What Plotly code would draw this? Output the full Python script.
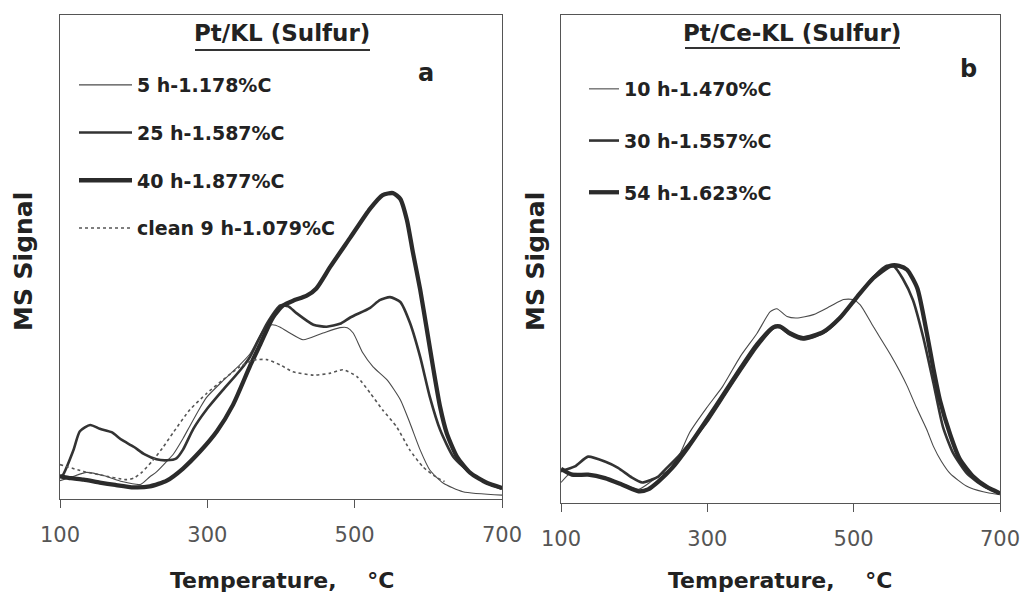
import plotly.graph_objects as go

# ---------------- data: panel a (Pt/KL, Sulfur) ----------------
a_names = ["5 h-1.178%C", "25 h-1.587%C", "40 h-1.877%C", "clean 9 h-1.079%C"]

a5_T = [100, 115, 136, 160, 184, 209, 222, 231, 245, 254, 267, 276, 290, 299, 321, 344, 358, 376, 388, 399,
        412, 430, 457, 480, 490, 498, 511, 525, 544, 562, 575, 589, 602, 620, 647, 700]
a5_v = [3.8, 4.5, 5.5, 4.8, 3.6, 3.0, 4.6, 5.6, 7.8, 9.3, 12.5, 15.0, 18.8, 21.0, 24.4, 27.7, 30.0, 34.9, 36.0, 35.5,
        34.3, 32.9, 34.3, 35.4, 35.4, 34.3, 30.2, 27.3, 24.6, 20.5, 15.7, 10.1, 6.0, 3.3, 1.5, 0.8]

a25_T = [100, 104, 118, 127, 141, 154, 170, 184, 200, 215, 231, 245, 258, 267, 281, 299, 321, 344, 358, 381,
         399, 410, 421, 444, 462, 480, 494, 521, 534, 548, 562, 575, 589, 602, 616, 634, 657, 680, 700]
a25_v = [4.7, 5.0, 10.0, 14.0, 15.3, 14.5, 13.8, 12.2, 10.8, 9.2, 8.2, 8.0, 8.4, 10.2, 14.5, 18.5, 22.5, 26.5, 29.4, 36.3,
         40.0, 39.8, 38.4, 36.0, 35.6, 36.2, 37.5, 39.5, 41.1, 41.7, 40.7, 36.4, 29.3, 21.1, 14.3, 8.7, 5.4, 3.3, 2.1]

a40_T = [100, 115, 132, 154, 175, 200, 222, 245, 267, 290, 313, 335, 358, 372, 389, 403, 417, 435, 448, 467,
         494, 521, 538, 552, 562, 571, 579, 589, 598, 607, 616, 625, 639, 657, 680, 700]
a40_v = [4.7, 4.3, 4.0, 3.4, 2.9, 2.4, 2.6, 3.8, 6.3, 9.8, 14.0, 19.5, 27.5, 32.0, 37.5, 40.0, 41.0, 42.0, 43.5, 48.0,
         54.0, 60.0, 62.8, 63.2, 62.0, 57.6, 51.0, 43.2, 35.0, 26.7, 19.0, 13.6, 8.7, 5.4, 3.3, 2.3]

aclean_T = [100, 132, 154, 190, 200, 211, 225, 239, 254, 276, 299, 321, 344, 362, 381, 399, 416, 444, 467, 484,
            503, 521, 538, 557, 575, 593, 611, 622]
aclean_v = [7.1, 5.7, 5.0, 4.0, 4.3, 5.5, 7.8, 10.5, 13.8, 18.4, 21.8, 24.6, 27.3, 28.7, 28.8, 27.7, 26.3, 25.6, 26.0, 26.7,
            25.3, 21.9, 18.4, 14.9, 10.1, 6.6, 4.5, 3.6]

# ---------------- data: panel b (Pt/Ce-KL, Sulfur) ----------------
b_names = ["10 h-1.470%C", "30 h-1.557%C", "54 h-1.623%C"]

b10_T = [100, 112, 125, 140, 160, 183, 206, 224, 233, 245, 260, 276, 299, 321, 345, 368, 386, 395, 409, 422,
         445, 468, 486, 499, 509, 527, 550, 563, 573, 586, 600, 609, 620, 632, 654, 677, 700]
b10_v = [4.2, 6.0, 6.0, 5.8, 5.3, 4.0, 2.8, 4.5, 5.5, 6.5, 9.3, 14.5, 19.5, 23.9, 30.0, 34.8, 39.2, 39.8, 38.2, 37.9,
         38.6, 40.3, 41.7, 41.7, 40.6, 36.1, 30.5, 27.0, 24.0, 19.5, 15.0, 11.6, 8.5, 6.0, 3.5, 2.3, 1.7]

b30_T = [100, 119, 137, 160, 178, 197, 211, 224, 233, 242, 260, 283, 299, 321, 345, 368, 390, 399, 413, 431,
         458, 481, 505, 527, 545, 555, 567, 581, 595, 609, 622, 636, 655, 677, 700]
b30_v = [6.5, 7.5, 9.5, 8.5, 7.2, 5.2, 4.2, 4.8, 5.4, 6.8, 9.5, 13.5, 16.5, 21.5, 27.0, 32.0, 35.8, 36.0, 34.5, 33.5,
         34.8, 37.8, 42.3, 46.3, 48.6, 48.5, 46.0, 41.6, 34.0, 24.6, 15.6, 10.2, 6.0, 3.5, 2.0]

b54_T = [100, 115, 137, 160, 183, 206, 219, 233, 252, 274, 299, 321, 345, 368, 390, 399, 413, 431, 458, 481,
         505, 527, 550, 562, 573, 587, 600, 609, 618, 632, 645, 663, 682, 700]
b54_v = [7.0, 5.8, 5.8, 5.1, 3.8, 2.4, 2.8, 4.4, 7.2, 11.5, 17.0, 22.0, 27.5, 32.5, 36.0, 36.2, 34.8, 33.8, 35.0, 37.9,
         42.3, 46.1, 48.6, 48.6, 47.8, 44.0, 34.8, 27.5, 21.0, 14.0, 9.0, 5.5, 3.3, 2.0]

x_ticks = [100, 300, 500, 700]

FONT = "DejaVu Sans"
W, H = 1024, 595

fig = go.Figure()

a_series = [
    (a5_T, a5_v, a_names[0], dict(color="#4a4a4a", width=1.1, dash="solid")),
    (a25_T, a25_v, a_names[1], dict(color="#333333", width=2.6, dash="solid")),
    (a40_T, a40_v, a_names[2], dict(color="#2b2b2b", width=4.3, dash="solid")),
    (aclean_T, aclean_v, a_names[3], dict(color="#555555", width=1.6, dash="dot")),
]
for T, v, name, ln in a_series:
    fig.add_trace(go.Scatter(
        x=T, y=v, mode="lines", name="<b>" + name + "</b>",
        line=dict(color=ln["color"], width=ln["width"], dash=ln["dash"], shape="spline", smoothing=0.6),
        xaxis="x", yaxis="y", legend="legend", legendgroup="a_" + name, hoverinfo="skip"))

b_series = [
    (b10_T, b10_v, b_names[0], dict(color="#4a4a4a", width=1.1)),
    (b30_T, b30_v, b_names[1], dict(color="#333333", width=2.6)),
    (b54_T, b54_v, b_names[2], dict(color="#2b2b2b", width=4.3)),
]
for T, v, name, ln in b_series:
    fig.add_trace(go.Scatter(
        x=T, y=v, mode="lines", name="<b>" + name + "</b>",
        line=dict(color=ln["color"], width=ln["width"], shape="spline", smoothing=0.6),
        xaxis="x2", yaxis="y2", legend="legend2", legendgroup="b_" + name, hoverinfo="skip"))

def px(x):
    return x / W

def py(y):
    return 1 - y / H

xcommon = dict(range=[100, 700], tickvals=x_ticks, ticktext=[str(t) for t in x_ticks],
               ticks="outside", ticklen=8, tickwidth=1.2, tickcolor="#555",
               showline=True, linecolor="#555", linewidth=1.2, mirror=True,
               showgrid=False, zeroline=False, ticklabelstandoff=9, automargin=False,
               tickfont=dict(family=FONT, size=21, color="#555"), fixedrange=True)
ycommon = dict(range=[0, 100], showticklabels=False, ticks="", showline=True, linecolor="#555",
               linewidth=1.2, mirror=True, showgrid=False, zeroline=False, fixedrange=True,
               automargin=False)

legcommon = dict(font=dict(family=FONT, size=19, color="#222"), bgcolor="rgba(0,0,0,0)",
                 borderwidth=0, xanchor="left", yanchor="top",
                 itemclick=False, itemdoubleclick=False)

fig.update_layout(
    width=W, height=H,
    margin=dict(l=0, r=0, t=0, b=0, pad=0, autoexpand=False),
    paper_bgcolor="white", plot_bgcolor="white",
    showlegend=True,
    xaxis=dict(domain=[px(60), px(502)], anchor="y", **xcommon),
    yaxis=dict(domain=[py(499), py(15)], anchor="x", **ycommon),
    xaxis2=dict(domain=[px(561), px(1000)], anchor="y2", **xcommon),
    yaxis2=dict(domain=[py(503), py(15)], anchor="x2", **ycommon),
    legend=dict(x=px(74), y=py(66), tracegroupgap=20, itemwidth=53, **legcommon),
    legend2=dict(x=px(584), y=py(70), tracegroupgap=24, itemwidth=30, **legcommon),
)

ann = []
def add_text(text, x, y, size, bold=True, angle=0, color="#222"):
    ann.append(dict(text=("<b>" + text + "</b>") if bold else text, x=px(x), y=py(y),
                    xref="paper", yref="paper", showarrow=False, textangle=angle,
                    xanchor="center", yanchor="middle",
                    font=dict(family=FONT, size=size, color=color)))

add_text("Pt/KL (Sulfur)", 282, 33, 23)
add_text("Pt/Ce-KL (Sulfur)", 792, 33, 23)
add_text("a", 426, 73, 24)
add_text("b", 968, 69, 24)
add_text("Temperature,\u00a0\u00a0\u00a0\u00a0°C", 282, 580, 22)
add_text("Temperature,\u00a0\u00a0\u00a0\u00a0°C", 780, 580, 22)
add_text("MS Signal", 23, 262, 25, angle=-90)
add_text("MS Signal", 535, 262, 25, angle=-90)
fig.update_layout(annotations=ann)

# title underlines
fig.add_shape(type="line", xref="paper", yref="paper", x0=px(195), x1=px(370), y0=py(50), y1=py(50),
              line=dict(color="#333", width=2))
fig.add_shape(type="line", xref="paper", yref="paper", x0=px(685), x1=px(900), y0=py(48), y1=py(48),
              line=dict(color="#333", width=2))

# remove the browser's default 8px page margin so the figure sits at the window origin
fig.write_html("out.html", config={"displayModeBar": False},
               post_script="document.body.style.margin='0px';")
